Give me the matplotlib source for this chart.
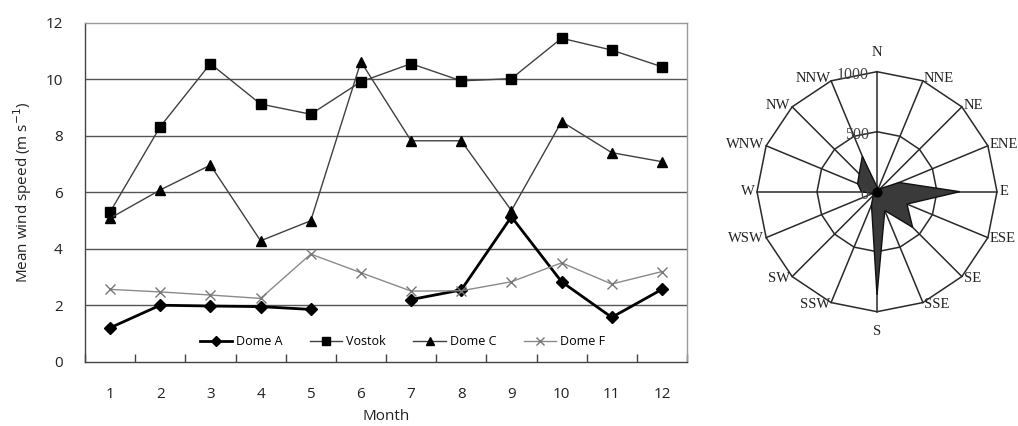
"""
Monthly mean wind speed at four Antarctic plateau stations (left) and
wind-direction frequency rose (right), Excel-style radar look.
"""
import numpy as np
import matplotlib
matplotlib.use('Agg')
import matplotlib.pyplot as plt
from matplotlib.ticker import FixedLocator, NullFormatter

# ── line chart data ──
MONTHS = list(range(1, 13))
DOME_A = [1.2, 2.0, 1.97, 1.95, 1.85, np.nan, 2.2, 2.54, 5.13, 2.83, 1.57, 2.56]
VOSTOK = [5.3, 8.32, 10.55, 9.12, 8.76, 9.91, 10.55, 9.94, 10.02, 11.45, 11.03, 10.44]
DOME_C = [5.08, 6.08, 6.96, 4.28, 4.99, 10.62, 7.82, 7.82, 5.35, 8.5, 7.4, 7.08]
DOME_F = [2.56, 2.47, 2.36, 2.24, 3.81, 3.15, 2.5, 2.51, 2.83, 3.5, 2.75, 3.19]

# ── wind rose data (counts per direction) ──
DIRS = ['N', 'NNE', 'NE', 'ENE', 'E', 'ESE', 'SE', 'SSE',
        'S', 'SSW', 'SW', 'WSW', 'W', 'WNW', 'NW', 'NNW']
COUNTS = [40, 30, 35, 200, 690, 270, 420, 170,
          860, 120, 45, 40, 130, 175, 210, 320]
RINGS = [0, 500, 1000]

SANS = ['Open Sans', 'DejaVu Sans']
SERIF = ['Liberation Serif', 'DejaVu Serif']

fig = plt.figure(figsize=(10.18, 4.26), dpi=100, facecolor='white')

# ───────────── left: line chart ─────────────
ax = fig.add_axes([85/1018, 1-361.7/426, 602/1018, 339/426])
ax.plot(MONTHS, DOME_A, color='black', lw=2.0, marker='D', ms=6,
        mfc='black', mec='black', label='Dome A', zorder=3)
ax.plot(MONTHS, VOSTOK, color='#404040', lw=1.0, marker='s', ms=7,
        mfc='black', mec='black', label='Vostok', zorder=4)
ax.plot(MONTHS, DOME_C, color='#404040', lw=1.0, marker='^', ms=7.5,
        mfc='black', mec='black', label='Dome C', zorder=5)
ax.plot(MONTHS, DOME_F, color='#8a8a8a', lw=1.0, marker='x', ms=7,
        mew=1.0, mec='#777777', label='Dome F', zorder=6)

ax.set_xlim(0.5, 12.5)
ax.set_ylim(0, 12)
ax.set_yticks(range(0, 13, 2))
for v in range(2, 12, 2):
    ax.axhline(v, color='#555555', lw=1.0, zorder=1)
ax.tick_params(axis='y', length=0, pad=16, labelsize=11)
ax.xaxis.set_major_locator(FixedLocator(np.arange(0.5, 13, 1)))
ax.xaxis.set_major_formatter(NullFormatter())
ax.xaxis.set_minor_locator(FixedLocator(MONTHS))
ax.set_xticklabels([str(m) for m in MONTHS], minor=True)
ax.tick_params(axis='x', which='major', direction='in', length=6,
               color='#444444', width=1.0)
ax.tick_params(axis='x', which='minor', length=0, pad=18, labelsize=11)
for lbl in ax.get_xticklabels(minor=True) + ax.get_yticklabels():
    lbl.set_family(SANS)
    lbl.set_color('#222222')

ax.spines['left'].set_color('#444444')
ax.spines['bottom'].set_color('#444444')
ax.spines['top'].set_color('#9a9a9a')
ax.spines['right'].set_color('#9a9a9a')
for s in ax.spines.values():
    s.set_linewidth(1.0)

ax.set_xlabel('Month', family=SANS, fontsize=11, color='#222222', labelpad=5)
ax.set_ylabel('Mean wind speed (m s$^{-1}$)', family=SANS, fontsize=11,
              color='#222222', labelpad=8)
ax.legend(loc='center', bbox_to_anchor=(0.527, 0.059), ncol=4, frameon=False,
          prop={'family': SANS, 'size': 9}, handlelength=2.6,
          handletextpad=0.3, columnspacing=2.2, markerscale=0.8)

# ───────────── right: wind rose (radar) ─────────────
SC = 1000 / 120.0                       # data units per pixel
rx = fig.add_axes([737/1018, 1-351.7/426, 280/1018, 320/426])
rx.set_xlim(-140*SC, 140*SC)
rx.set_ylim(-160*SC, 160*SC)
rx.axis('off')

ang = np.radians(90 - 22.5*np.arange(len(DIRS)))
cx, cy = np.cos(ang), np.sin(ang)
for r in RINGS[1:]:
    rx.plot(np.append(r*cx, r*cx[0]), np.append(r*cy, r*cy[0]),
            color='#2a2a2a', lw=1.1, zorder=1)
for x, y in zip(cx, cy):
    rx.plot([0, 1000*x], [0, 1000*y], color='#2a2a2a', lw=1.1, zorder=1)

vals = np.array(COUNTS, float)
rx.fill(vals*cx, vals*cy, facecolor='#3a3a3a', edgecolor='#111111',
        lw=1.0, zorder=3)
rx.scatter([0], [0], s=40, color='black', zorder=4)

for name, x, y in zip(DIRS, cx, cy):
    ha = 'left' if x > 0.3 else ('right' if x < -0.3 else 'center')
    if abs(y) > 0.95:
        va = 'bottom' if y > 0 else 'top'
        d = 110
    else:
        va = 'center'
        d = 20
    rx.text((1000+d)*x, (1000+d)*y, name, ha=ha, va=va, family=SERIF,
            fontsize=10.5, color='#222222', zorder=5)
for r in RINGS:
    rx.text(-70, r - 25, str(r), ha='right', va='center', family=SERIF,
            fontsize=11.5, color='#444444', zorder=5)

plt.savefig('out.png', dpi=100, facecolor='white')
